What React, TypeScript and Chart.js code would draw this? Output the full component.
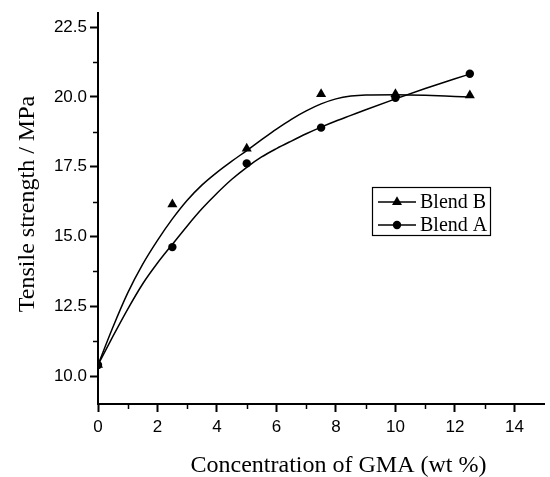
import React, { useEffect, useRef } from 'react';
import { Chart, registerables } from 'chart.js';

Chart.register(...registerables);

// Measured data points
const concentrations = [0, 2.5, 5, 7.5, 10, 12.5];
const blendB = [10.4, 16.15, 18.15, 20.1, 20.1, 20.06];
const blendA = [10.4, 14.62, 17.62, 18.9, 19.97, 20.83];

// Fitted curves
const fitX = [0, 0.5, 1, 1.5, 2, 2.5, 3, 3.5, 4, 4.5, 5, 5.5, 6, 6.5, 7, 7.5, 8, 8.5, 9, 10, 11, 12, 12.5];
const fitB = [10.4, 11.75, 12.98, 14.0, 14.86, 15.63, 16.3, 16.85, 17.3, 17.7, 18.08, 18.47, 18.85, 19.2, 19.5, 19.75, 19.93, 20.03, 20.07, 20.08, 20.06, 20.02, 20.0];
const fitA = [10.4, 11.42, 12.4, 13.3, 14.05, 14.72, 15.38, 16.0, 16.55, 17.05, 17.48, 17.85, 18.15, 18.42, 18.68, 18.92, 19.14, 19.34, 19.54, 19.93, 20.3, 20.65, 20.82];

// Axis ticks
const xMajorTicks = [0, 2, 4, 6, 8, 10, 12, 14];
const xMinorTicks = [1, 3, 5, 7, 9, 11, 13];
const yMajorTicks = [10, 12.5, 15, 17.5, 20, 22.5];
const yMinorTicks = [11.25, 13.75, 16.25, 18.75, 21.25];

const xTitle = 'Concentration of GMA (wt %)';
const yTitle = 'Tensile strength / MPa';
const legendLabels = ['Blend B', 'Blend A'];
const legendMarkers = ['triangle', 'circle'];

const SERIF = '"Liberation Serif", "Times New Roman", serif';
const SANS = '"Liberation Sans", Arial, sans-serif';

const extrasPlugin = {
  id: 'extras',
  afterDraw(chart: any) {
    const { ctx, chartArea, scales } = chart;
    const x = scales.x;
    const y = scales.y;
    ctx.save();
    // minor ticks
    ctx.strokeStyle = '#000';
    ctx.lineWidth = 1.5;
    xMinorTicks.forEach((v) => {
      const px = Math.round(x.getPixelForValue(v)) + 0.5;
      ctx.beginPath();
      ctx.moveTo(px, chartArea.bottom);
      ctx.lineTo(px, chartArea.bottom + 5);
      ctx.stroke();
    });
    yMinorTicks.forEach((v) => {
      const py = Math.round(y.getPixelForValue(v)) + 0.5;
      ctx.beginPath();
      ctx.moveTo(chartArea.left, py);
      ctx.lineTo(chartArea.left - 5, py);
      ctx.stroke();
    });

    // axis titles
    ctx.fillStyle = '#000';
    ctx.font = `24px ${SERIF}`;
    ctx.textAlign = 'center';
    ctx.textBaseline = 'alphabetic';
    ctx.fillText(xTitle, 338.5, 472);
    ctx.save();
    ctx.translate(34, 204);
    ctx.rotate(-Math.PI / 2);
    ctx.fillText(yTitle, 0, 0);
    ctx.restore();

    // legend
    const bx = 372.5, by = 187.5, bw = 118, bh = 48;
    ctx.lineWidth = 1.2;
    ctx.strokeStyle = '#000';
    ctx.strokeRect(bx, by, bw, bh);
    const rows = [202, 225];
    ctx.font = `20px ${SERIF}`;
    ctx.textAlign = 'left';
    ctx.textBaseline = 'middle';
    rows.forEach((ry, i) => {
      ctx.lineWidth = 1.5;
      ctx.beginPath();
      ctx.moveTo(378, ry);
      ctx.lineTo(416, ry);
      ctx.stroke();
      ctx.beginPath();
      if (legendMarkers[i] === 'triangle') {
        const r = 5.8;
        ctx.moveTo(397, ry - r);
        ctx.lineTo(397 + r * 0.866, ry + r / 2);
        ctx.lineTo(397 - r * 0.866, ry + r / 2);
        ctx.closePath();
      } else {
        ctx.arc(397, ry, 4.2, 0, Math.PI * 2);
      }
      ctx.fill();
      ctx.fillText(legendLabels[i], 420, ry + 1);
    });
    ctx.restore();
  },
};

export default function App() {
  const canvasRef = useRef<HTMLCanvasElement | null>(null);

  useEffect(() => {
    document.body.style.margin = '0';
    const canvas = canvasRef.current;
    if (!canvas) return;
    const chart = new Chart(canvas, {
      type: 'scatter',
      data: {
        datasets: [
          {
            label: legendLabels[0],
            data: concentrations.map((c, i) => ({ x: c, y: blendB[i] })),
            pointStyle: 'triangle',
            pointRadius: 5.8,
            backgroundColor: '#000',
            borderColor: '#000',
            borderWidth: 0,
            showLine: false,
          },
          {
            label: legendLabels[1],
            data: concentrations.map((c, i) => ({ x: c, y: blendA[i] })),
            pointStyle: 'circle',
            pointRadius: 4.2,
            backgroundColor: '#000',
            borderColor: '#000',
            borderWidth: 0,
            showLine: false,
          },
          {
            label: 'Fit B',
            data: fitX.map((c, i) => ({ x: c, y: fitB[i] })),
            showLine: true,
            pointRadius: 0,
            borderColor: '#000',
            borderWidth: 1.5,
            cubicInterpolationMode: 'monotone',
            fill: false,
          },
          {
            label: 'Fit A',
            data: fitX.map((c, i) => ({ x: c, y: fitA[i] })),
            showLine: true,
            pointRadius: 0,
            borderColor: '#000',
            borderWidth: 1.5,
            cubicInterpolationMode: 'monotone',
            fill: false,
          },
        ],
      },
      options: {
        responsive: false,
        animation: false,
        events: [],
        layout: { padding: { top: 12, right: 2, left: 0, bottom: 0 } },
        plugins: {
          legend: { display: false },
          tooltip: { enabled: false },
          title: { display: false },
        },
        scales: {
          x: {
            type: 'linear',
            min: 0,
            max: 15,
            afterBuildTicks: (axis: any) => {
              axis.ticks = xMajorTicks.map((v) => ({ value: v }));
            },
            afterFit: (scale: any) => {
              scale.height = 73;
            },
            grid: {
              drawOnChartArea: false,
              drawTicks: true,
              tickLength: 8,
              tickWidth: 2,
              tickColor: '#000',
            },
            border: { display: true, width: 2, color: '#000' },
            ticks: {
              color: '#000',
              font: { family: SANS, size: 17 },
              padding: 5,
              maxRotation: 0,
              autoSkip: false,
              callback: (v: any) => String(v),
            },
          },
          y: {
            type: 'linear',
            min: 9,
            max: 23,
            afterBuildTicks: (axis: any) => {
              axis.ticks = yMajorTicks.map((v) => ({ value: v }));
            },
            afterFit: (scale: any) => {
              scale.width = 98;
            },
            grid: {
              drawOnChartArea: false,
              drawTicks: true,
              tickLength: 8,
              tickWidth: 2,
              tickColor: '#000',
            },
            border: { display: true, width: 2, color: '#000' },
            ticks: {
              color: '#000',
              font: { family: SANS, size: 17 },
              padding: 3,
              autoSkip: false,
              callback: (v: any) => Number(v).toFixed(1),
            },
          },
        },
      },
      plugins: [extrasPlugin],
    });
    return () => chart.destroy();
  }, []);

  return (
    <div style={{ width: 550, height: 477 }}>
      <canvas ref={canvasRef} width={550} height={477} style={{ display: 'block' }} />
    </div>
  );
}
